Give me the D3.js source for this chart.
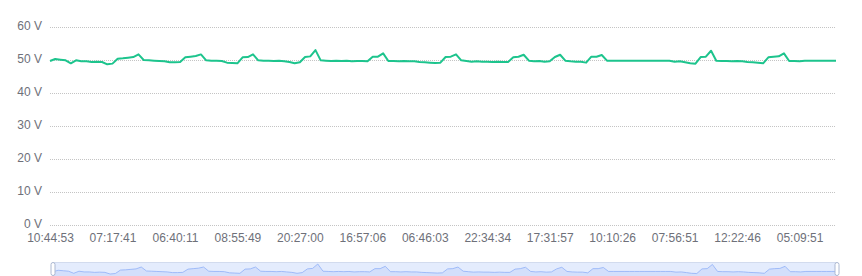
<!DOCTYPE html>
<html>
<head>
<meta charset="utf-8">
<script src="https://cdn.jsdelivr.net/npm/d3@7"></script>
<style>
  body { margin: 0; background: #fff; }
  svg { display: block; font-family: "Noto Sans", sans-serif; }
</style>
</head>
<body>
<svg id="chart" width="862" height="276"></svg>
<script>
// voltage readings, one per sample
var voltage = [
    49.7, 50.3, 50.1, 49.9, 49.0, 49.9, 49.6, 49.6, 49.4, 49.5,
    49.4, 48.7, 48.9, 50.4, 50.5, 50.7, 50.9, 51.7, 50.0, 49.9,
    49.8, 49.7, 49.6, 49.3, 49.3, 49.4, 50.8, 51.0, 51.2, 51.7,
    49.9, 49.8, 49.8, 49.7, 49.2, 49.1, 49.0, 50.8, 50.9, 51.7,
    49.9, 49.8, 49.8, 49.7, 49.8, 49.6, 49.4, 49.0, 49.3, 50.9,
    51.1, 53.0, 49.9, 49.8, 49.7, 49.8, 49.7, 49.8, 49.6, 49.7,
    49.7, 49.6, 51.0, 51.0, 52.0, 49.7, 49.7, 49.6, 49.7, 49.6,
    49.6, 49.4, 49.3, 49.2, 49.1, 49.2, 50.9, 51.0, 51.7, 49.9,
    49.7, 49.5, 49.6, 49.5, 49.5, 49.4, 49.5, 49.4, 49.4, 50.8,
    51.0, 51.6, 49.8, 49.6, 49.7, 49.5, 49.6, 50.9, 51.6, 49.8,
    49.6, 49.5, 49.5, 49.2, 51.0, 51.0, 51.5, 49.8, 49.8, 49.8,
    49.8, 49.8, 49.8, 49.8, 49.8, 49.8, 49.8, 49.8, 49.8, 49.8,
    49.5, 49.6, 49.3, 49.0, 48.9, 50.9, 51.0, 52.8, 49.8, 49.7,
    49.7, 49.6, 49.7, 49.6, 49.4, 49.3, 49.2, 49.0, 50.8, 51.0,
    51.1, 52.0, 49.7, 49.7, 49.6, 49.8, 49.8, 49.8, 49.8, 49.8,
    49.8, 49.8
];

// time labels shown on the x axis (every 12th sample)
var timeLabels = ["10:44:53", "07:17:41", "06:40:11", "08:55:49", "20:27:00", "16:57:06",
    "06:46:03", "22:34:34", "17:31:57", "10:10:26", "07:56:51", "12:22:46", "05:09:51"];
var labelEvery = 12;

var yTicks = [0, 10, 20, 30, 40, 50, 60];

var svg = d3.select("#chart");
var margin = {top: 27, right: 26, bottom: 51, left: 50},
    width = 862 - margin.left - margin.right,
    height = 276 - margin.top - margin.bottom;

var idx = d3.range(voltage.length);

var x = d3.scalePoint()
    .domain(idx)
    .range([margin.left, margin.left + width]);

var y = d3.scaleLinear()
    .domain([0, 60])
    .range([margin.top + height, margin.top]);

// dotted grid lines
svg.append("g")
    .selectAll("line")
    .data(yTicks)
    .enter().append("line")
    .attr("x1", margin.left)
    .attr("x2", margin.left + width)
    .attr("y1", function(d) { return Math.round(y(d)) + 0.5; })
    .attr("y2", function(d) { return Math.round(y(d)) + 0.5; })
    .attr("stroke", "#c4c4c4")
    .attr("stroke-dasharray", "1,1");

// y axis labels
var yAxis = d3.axisLeft(y)
    .tickValues(yTicks)
    .tickSize(0)
    .tickPadding(8)
    .tickFormat(function(d) { return d + " V"; });

svg.append("g")
    .attr("transform", "translate(" + margin.left + ",-1)")
    .call(yAxis)
    .call(function(g) { g.select(".domain").remove(); })
    .selectAll("text")
    .attr("fill", "#6e7079")
    .style("font-size", "12px");

// x axis labels
var xAxis = d3.axisBottom(x)
    .tickValues(idx.filter(function(i) { return i % labelEvery === 0; }))
    .tickSize(0)
    .tickPadding(8)
    .tickFormat(function(i) { return timeLabels[i / labelEvery]; });

svg.append("g")
    .attr("transform", "translate(0," + (margin.top + height) + ")")
    .call(xAxis)
    .call(function(g) { g.select(".domain").remove(); })
    .selectAll("text")
    .attr("fill", "#6e7079")
    .style("font-size", "12px");

// main line
var line = d3.line()
    .x(function(d, i) { return x(i); })
    .y(function(d) { return y(d); });

svg.append("path")
    .datum(voltage)
    .attr("fill", "none")
    .attr("stroke", "#1dc48d")
    .attr("stroke-width", 2)
    .attr("stroke-linejoin", "round")
    .attr("d", line);

// data zoom slider at the bottom
var sl = {x0: 53, x1: 837, top: 262, bottom: 276};

var sx = d3.scalePoint()
    .domain(idx)
    .range([sl.x0, sl.x1]);

var sy = d3.scaleLinear()
    .domain(d3.extent(voltage))
    .range([274, 264]);

svg.append("rect")
    .attr("x", sl.x0)
    .attr("y", sl.top + 0.5)
    .attr("width", sl.x1 - sl.x0)
    .attr("height", sl.bottom - sl.top)
    .attr("fill", "#e4ecfd")
    .attr("stroke", "#d2dbee");

var area = d3.area()
    .x(function(d, i) { return sx(i); })
    .y0(sl.bottom)
    .y1(function(d) { return sy(d); });

svg.append("path")
    .datum(voltage)
    .attr("fill", "#8fb0f7")
    .attr("fill-opacity", 0.2)
    .attr("d", area);

svg.append("path")
    .datum(voltage)
    .attr("fill", "none")
    .attr("stroke", "#8fb0f7")
    .attr("stroke-width", 0.8)
    .attr("d", d3.line()
        .x(function(d, i) { return sx(i); })
        .y(function(d) { return sy(d); }));

// handles
svg.append("g")
    .selectAll("rect")
    .data([sl.x0, sl.x1])
    .enter().append("rect")
    .attr("x", function(d) { return d - 2; })
    .attr("y", sl.top + 0.5)
    .attr("width", 4)
    .attr("height", 13)
    .attr("rx", 2)
    .attr("fill", "#fff")
    .attr("stroke", "#acb8d1");
</script>
</body>
</html>
